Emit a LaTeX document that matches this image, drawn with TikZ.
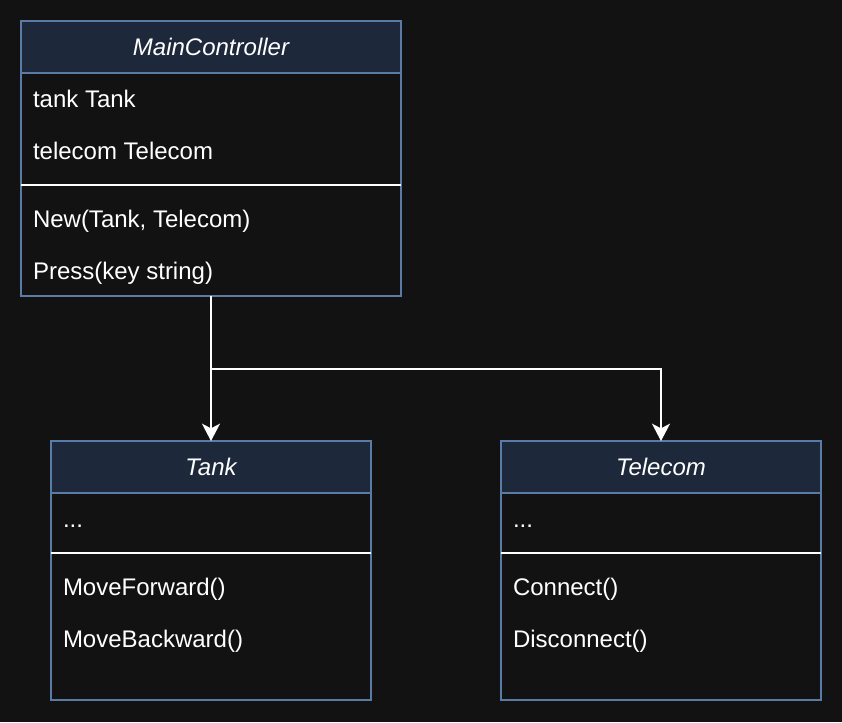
\documentclass[tikz,border=0pt]{standalone}
\usepackage{fontspec}
\setmainfont{Liberation Sans}
\usetikzlibrary{arrows.meta}
\definecolor{bgcol}{HTML}{121212}
\definecolor{headcol}{HTML}{1E283B}
\definecolor{edgecol}{HTML}{5B7BA7}
\begin{document}
\begin{tikzpicture}[x=0.75pt, y=-0.75pt, line width=1.5pt,
  every node/.style = {text=white, font=\fontsize{18}{21}\selectfont},
  body/.style = {draw=edgecol, fill=bgcol, anchor=north west, inner sep=0pt, outer sep=0pt},
  head/.style = {draw=edgecol, fill=headcol, anchor=north west, inner sep=0pt, outer sep=0pt, minimum height=39pt, font=\fontsize{18}{21}\selectfont\itshape},
  row/.style = {anchor=base west, inner sep=0pt},
  sep/.style = {draw=white},
  link/.style = {draw=white, -{Stealth[length=13pt, width=13.5pt, inset=3.5pt]}}]
\fill[bgcol] (0,0) rectangle (842,722);
\useasboundingbox (0,0) rectangle (842,722);

% Main controller
\node[body, minimum width=285pt, minimum height=206.25pt] (mainBody) at (21,21) {};
\node[head, minimum width=285pt] (mainHead) at (21,21) {MainController};
\node[row] (mainTank) at (32,107) {tank Tank};
\node[row] (mainTelecom) at (32,159) {telecom Telecom};
\draw[sep] (21,185) -- (401,185);
\node[row] (mainNew) at (32,227) {New(Tank, Telecom)};
\node[row] (mainPress) at (32,279) {Press(key string)};

% Tank
\node[body, minimum width=240pt, minimum height=194.25pt] (tankBody) at (51,441) {};
\node[head, minimum width=240pt] (tankHead) at (51,441) {Tank};
\node[row] (tankDots) at (62,527) {...};
\draw[sep] (51,553) -- (371,553);
\node[row] (tankForward) at (62,595) {MoveForward()};
\node[row] (tankBackward) at (62,647) {MoveBackward()};

% Telecom
\node[body, minimum width=240pt, minimum height=194.25pt] (telecomBody) at (501,441) {};
\node[head, minimum width=240pt] (telecomHead) at (501,441) {Telecom};
\node[row] (telecomDots) at (512,527) {...};
\draw[sep] (501,553) -- (821,553);
\node[row] (telecomConnect) at (512,595) {Connect()};
\node[row] (telecomDisconnect) at (512,647) {Disconnect()};

% Links
\coordinate (fork) at (211,369);
\draw[link] (mainBody.south) -- (tankHead.north);
\draw[link] (fork) -| (telecomHead.north);
\end{tikzpicture}
\end{document}
